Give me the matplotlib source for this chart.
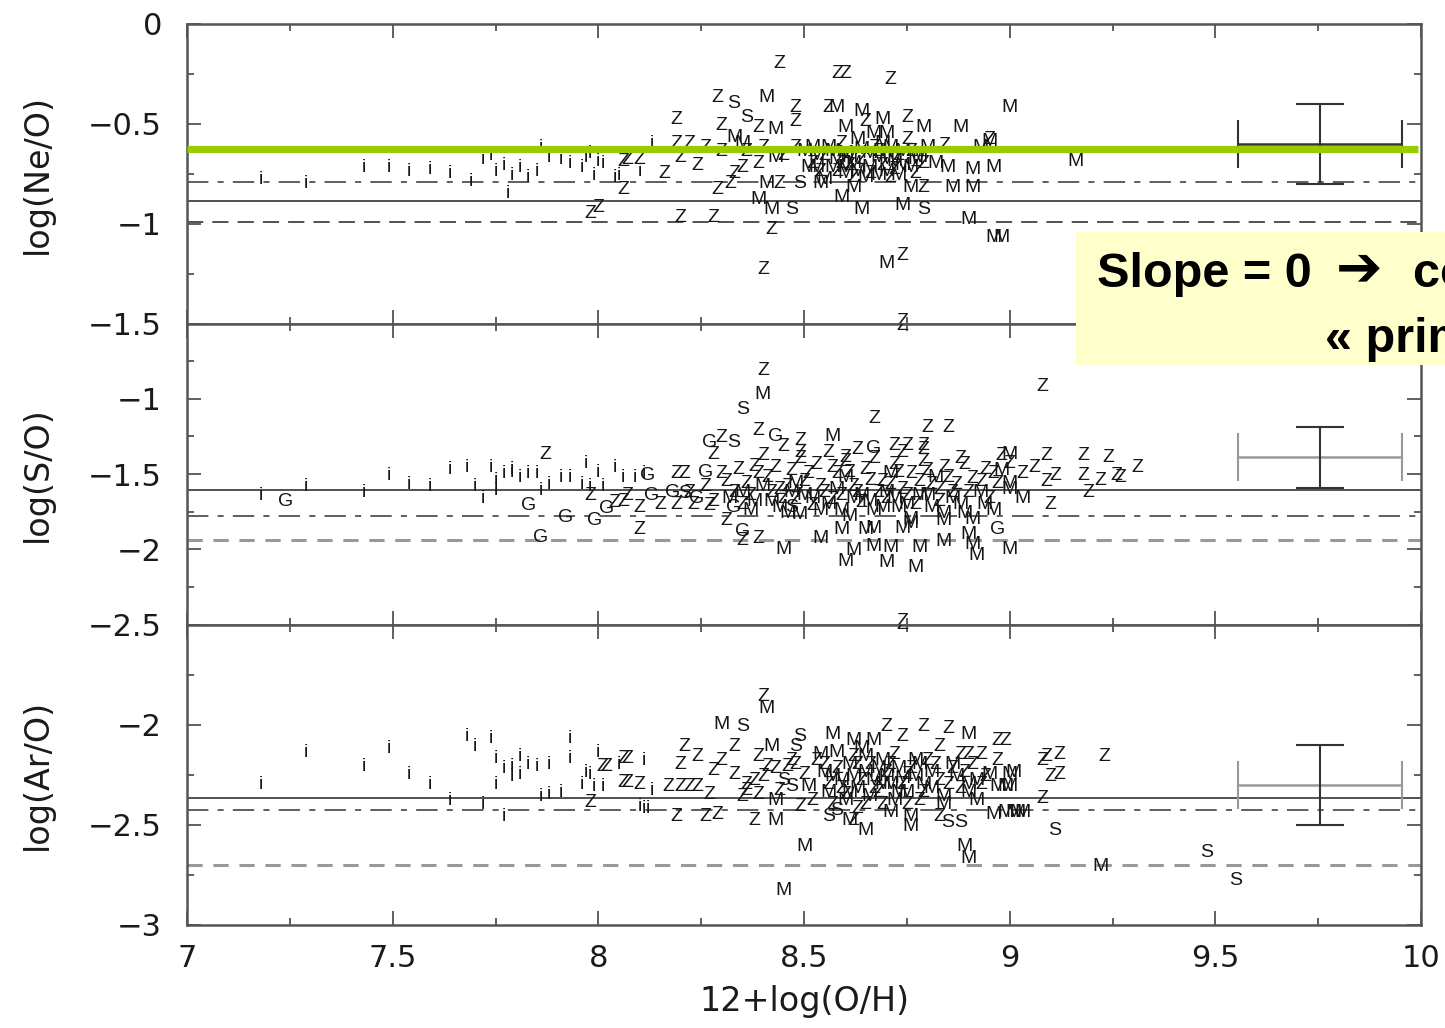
import numpy as np
import matplotlib.pyplot as plt
from matplotlib.ticker import MultipleLocator
from matplotlib.patches import Rectangle

plt.rcParams['font.family'] = ['DejaVu Sans']

# x axis
x_ticks = [7, 7.5, 8, 8.5, 9, 9.5, 10]
x_label = '12+log(O/H)'

# ---- log(Ne/O) panel ----
ne_ticks = [0, -0.5, -1, -1.5]
ne_lines = [-0.888, -0.79, -0.99]          # solid, dash-dot, dashed
ne_green = -0.625
ne_i = [(7.18, -0.78), (7.29, -0.80), (7.43, -0.72), (7.49, -0.72), (7.54, -0.74), (7.59, -0.73),
        (7.64, -0.75), (7.69, -0.79), (7.72, -0.68), (7.74, -0.66), (7.75, -0.74), (7.77, -0.71),
        (7.78, -0.85), (7.79, -0.76), (7.81, -0.72), (7.83, -0.77), (7.85, -0.74), (7.86, -0.62),
        (7.88, -0.67), (7.91, -0.68), (7.93, -0.70), (7.96, -0.72), (7.97, -0.67), (7.98, -0.65),
        (7.99, -0.76), (8.00, -0.69), (8.01, -0.70), (8.04, -0.77), (8.05, -0.76), (8.10, -0.74),
        (8.13, -0.60)]
ne_Z = [(8.44, -0.20), (8.58, -0.25), (8.60, -0.25), (8.71, -0.28), (8.29, -0.37), (8.48, -0.42),
        (8.56, -0.42), (8.65, -0.49), (8.75, -0.47), (8.19, -0.48), (8.30, -0.51), (8.39, -0.52),
        (8.48, -0.49), (8.19, -0.60), (8.22, -0.60), (8.84, -0.61), (8.95, -0.58), (8.07, -0.68),
        (8.10, -0.68), (8.16, -0.75), (8.20, -0.67), (8.24, -0.71), (8.35, -0.72), (8.33, -0.75),
        (8.39, -0.70), (8.32, -0.80), (8.29, -0.83), (8.44, -0.80), (8.79, -0.82), (8.00, -0.92),
        (7.98, -0.95), (8.06, -0.83), (8.06, -0.69), (8.42, -1.03), (8.40, -1.23), (8.74, -1.16),
        (8.20, -0.97), (8.28, -0.97), (8.74, -1.49), (8.48, -0.62), (8.52, -0.70), (8.55, -0.66),
        (8.59, -0.60), (8.61, -0.71), (8.64, -0.68), (8.67, -0.62), (8.69, -0.71), (8.73, -0.66),
        (8.75, -0.58), (8.77, -0.75), (8.62, -0.77), (8.45, -0.66), (8.40, -0.62), (8.36, -0.64),
        (8.30, -0.64), (8.26, -0.62), (8.79, -0.70), (8.58, -0.74), (8.66, -0.75), (8.71, -0.77),
        (8.54, -0.74), (8.59, -0.70), (8.68, -0.64), (8.72, -0.73), (8.76, -0.64)]
ne_M = [(8.41, -0.37), (8.58, -0.42), (8.64, -0.44), (8.69, -0.48), (8.70, -0.55), (8.79, -0.52),
        (8.88, -0.52), (9.00, -0.42), (8.43, -0.53), (8.33, -0.57), (8.60, -0.52), (8.95, -0.59),
        (8.93, -0.62), (8.41, -0.80), (8.54, -0.80), (8.43, -0.67), (8.51, -0.72), (8.53, -0.72),
        (8.60, -0.72), (8.62, -0.82), (8.59, -0.87), (8.64, -0.93), (8.42, -0.93), (8.39, -0.88),
        (8.74, -0.91), (8.76, -0.82), (8.86, -0.82), (8.91, -0.82), (8.91, -0.73), (8.96, -0.72),
        (8.85, -0.72), (8.77, -0.68), (8.90, -0.98), (8.96, -1.07), (8.98, -1.07), (8.70, -1.20),
        (9.16, -0.69), (8.50, -0.64), (8.53, -0.66), (8.56, -0.62), (8.58, -0.68), (8.60, -0.65),
        (8.62, -0.70), (8.64, -0.63), (8.66, -0.72), (8.68, -0.67), (8.70, -0.74), (8.72, -0.69),
        (8.74, -0.64), (8.76, -0.72), (8.78, -0.67), (8.60, -0.75), (8.65, -0.77), (8.69, -0.60),
        (8.57, -0.72), (8.63, -0.58), (8.71, -0.62), (8.80, -0.62), (8.82, -0.70), (8.55, -0.78),
        (8.67, -0.55), (8.73, -0.76), (8.35, -0.60), (8.52, -0.62), (8.57, -0.64), (8.61, -0.67),
        (8.66, -0.65), (8.70, -0.68), (8.74, -0.71), (8.63, -0.74), (8.68, -0.76)]
ne_S = [(8.33, -0.40), (8.36, -0.47), (8.47, -0.93), (8.79, -0.93), (8.49, -0.80)]
ne_err = (9.755, -0.60, 0.20, 0.20)        # x, y, xerr, yerr

# ---- log(S/O) panel ----
so_ticks = [-1, -1.5, -2, -2.5]
so_lines = [-1.605, -1.78, -1.94]
so_i = [(7.18, -1.64), (7.29, -1.58), (7.43, -1.62), (7.49, -1.51), (7.54, -1.57), (7.59, -1.58),
        (7.64, -1.47), (7.68, -1.46), (7.70, -1.58), (7.72, -1.66), (7.74, -1.46), (7.75, -1.54),
        (7.75, -1.61), (7.77, -1.50), (7.79, -1.49), (7.79, -1.47), (7.81, -1.52), (7.83, -1.50),
        (7.85, -1.50), (7.86, -1.61), (7.88, -1.57), (7.91, -1.52), (7.93, -1.52), (7.96, -1.57),
        (7.97, -1.43), (7.98, -1.58), (8.00, -1.49), (8.01, -1.58), (8.04, -1.46), (8.06, -1.52),
        (8.09, -1.52), (8.11, -1.50)]
so_G = [(7.24, -1.68), (7.83, -1.71), (7.92, -1.79), (7.99, -1.81), (7.86, -1.92), (8.02, -1.73),
        (8.12, -1.51), (8.26, -1.49), (8.27, -1.29), (8.43, -1.25), (8.67, -1.33), (8.35, -1.88),
        (8.97, -1.87), (8.13, -1.64), (8.18, -1.62), (8.24, -1.66), (8.33, -1.72)]
so_Z = [(7.87, -1.37), (7.98, -1.64), (8.06, -1.68), (8.40, -0.81), (8.67, -1.13), (9.08, -0.92),
        (8.80, -1.19), (8.85, -1.19), (8.72, -1.31), (8.75, -1.31), (8.79, -1.31), (8.79, -1.34),
        (8.30, -1.26), (8.39, -1.21), (8.45, -1.32), (8.49, -1.28), (8.49, -1.36), (8.60, -1.39),
        (8.28, -1.37), (8.19, -1.50), (8.21, -1.50), (8.10, -1.87), (8.31, -1.81), (8.35, -1.94),
        (8.39, -1.93), (8.74, -0.51), (8.74, -2.48), (9.09, -1.38), (9.18, -1.38), (9.24, -1.39),
        (9.31, -1.46), (9.11, -1.51), (9.18, -1.51), (9.19, -1.62), (9.10, -1.70), (9.26, -1.51),
        (9.27, -1.52), (9.22, -1.54), (8.07, -1.64), (8.10, -1.72), (8.15, -1.70), (8.19, -1.70),
        (8.23, -1.70), (8.27, -1.71), (8.04, -1.69), (8.22, -1.62), (8.26, -1.58), (8.30, -1.50),
        (8.33, -1.62), (8.36, -1.56), (8.38, -1.45), (8.41, -1.52), (8.44, -1.60), (8.47, -1.48),
        (8.50, -1.55), (8.53, -1.44), (8.55, -1.62), (8.58, -1.50), (8.60, -1.42), (8.62, -1.58),
        (8.65, -1.47), (8.67, -1.40), (8.69, -1.55), (8.72, -1.44), (8.74, -1.60), (8.76, -1.50),
        (8.79, -1.42), (8.81, -1.57), (8.84, -1.46), (8.86, -1.62), (8.89, -1.44), (8.91, -1.53),
        (8.94, -1.47), (8.97, -1.56), (9.00, -1.43), (9.03, -1.50), (9.06, -1.46), (9.09, -1.55),
        (8.28, -1.68), (8.35, -1.70), (8.45, -1.66), (8.52, -1.71), (8.57, -1.67), (8.64, -1.69),
        (8.70, -1.66), (8.77, -1.70), (8.83, -1.68), (8.95, -1.66), (8.40, -1.38), (8.49, -1.40),
        (8.56, -1.36), (8.63, -1.34), (8.74, -1.36), (8.88, -1.40), (8.98, -1.38), (8.31, -1.55),
        (8.34, -1.47), (8.37, -1.64), (8.39, -1.50), (8.42, -1.62), (8.43, -1.46), (8.46, -1.58),
        (8.48, -1.67), (8.51, -1.50), (8.54, -1.58), (8.57, -1.46), (8.59, -1.64), (8.61, -1.49),
        (8.63, -1.62), (8.66, -1.54), (8.68, -1.62), (8.71, -1.57), (8.73, -1.49), (8.75, -1.64),
        (8.78, -1.55), (8.80, -1.48), (8.83, -1.60), (8.85, -1.52), (8.87, -1.57), (8.90, -1.62),
        (8.93, -1.55), (8.96, -1.50)]
so_M = [(8.40, -0.97), (8.57, -1.25), (9.00, -1.37), (9.00, -2.00), (8.45, -2.00), (8.54, -1.93),
        (8.59, -1.87), (8.65, -1.87), (8.67, -1.86), (8.60, -2.08), (8.62, -2.01), (8.67, -1.98),
        (8.71, -1.99), (8.70, -2.09), (8.78, -1.99), (8.77, -2.12), (8.84, -1.95), (8.90, -1.90),
        (8.91, -1.97), (8.92, -2.04), (8.74, -1.86), (8.76, -1.83), (8.84, -1.81), (8.49, -1.77),
        (8.32, -1.66), (8.37, -1.74), (8.42, -1.68), (8.46, -1.76), (8.50, -1.64), (8.54, -1.74),
        (8.58, -1.60), (8.61, -1.78), (8.64, -1.64), (8.67, -1.74), (8.70, -1.62), (8.73, -1.72),
        (8.76, -1.80), (8.80, -1.64), (8.84, -1.76), (8.88, -1.70), (8.91, -1.80), (8.93, -1.62),
        (8.96, -1.74), (9.00, -1.60), (9.03, -1.66), (8.40, -1.58), (8.48, -1.56), (8.60, -1.52),
        (8.71, -1.50), (8.82, -1.52), (8.98, -1.48), (9.00, -1.56), (8.35, -1.62), (8.38, -1.68),
        (8.44, -1.72), (8.47, -1.62), (8.52, -1.66), (8.56, -1.70), (8.59, -1.74), (8.62, -1.66),
        (8.66, -1.68), (8.69, -1.72), (8.72, -1.66), (8.75, -1.70), (8.78, -1.64), (8.81, -1.72),
        (8.86, -1.66), (8.89, -1.76), (8.94, -1.70)]
so_S = [(8.35, -1.07), (8.33, -1.29), (8.21, -1.63), (8.47, -1.72)]
so_err = (9.755, -1.39, 0.20, 0.205)

# ---- log(Ar/O) panel ----
ar_ticks = [-2, -2.5, -3]
ar_lines = [-2.365, -2.425, -2.70]
ar_i = [(7.18, -2.30), (7.29, -2.14), (7.43, -2.21), (7.49, -2.12), (7.54, -2.25), (7.59, -2.30),
        (7.64, -2.38), (7.68, -2.06), (7.70, -2.11), (7.72, -2.40), (7.74, -2.07), (7.75, -2.17),
        (7.75, -2.30), (7.77, -2.46), (7.77, -2.22), (7.79, -2.21), (7.79, -2.26), (7.81, -2.16),
        (7.81, -2.25), (7.83, -2.20), (7.85, -2.21), (7.86, -2.36), (7.88, -2.20), (7.88, -2.35),
        (7.91, -2.34), (7.93, -2.07), (7.93, -2.17), (7.96, -2.30), (7.97, -2.24), (7.98, -2.25),
        (7.99, -2.31), (8.01, -2.31), (8.00, -2.14), (8.05, -2.20), (8.11, -2.18), (8.10, -2.41),
        (8.11, -2.42), (8.12, -2.42), (8.13, -2.33)]
ar_Z = [(8.01, -2.21), (7.98, -2.39), (8.06, -2.17), (8.06, -2.29), (8.02, -2.21), (8.07, -2.17),
        (8.07, -2.29), (8.10, -2.30), (8.17, -2.31), (8.20, -2.31), (8.22, -2.31), (8.24, -2.31),
        (8.21, -2.11), (8.20, -2.20), (8.24, -2.16), (8.19, -2.46), (8.26, -2.46), (8.29, -2.45),
        (8.27, -2.35), (8.28, -2.23), (8.30, -2.18), (8.33, -2.11), (8.33, -2.25), (8.36, -2.33),
        (8.35, -2.36), (8.38, -2.48), (8.40, -1.86), (8.39, -2.16), (8.41, -2.21), (8.43, -2.22),
        (8.38, -2.28), (8.39, -2.35), (8.46, -2.21), (8.48, -2.20), (8.49, -2.41), (8.70, -2.01),
        (8.74, -2.06), (8.79, -2.01), (8.85, -2.02), (8.97, -2.08), (8.99, -2.08), (8.83, -2.11),
        (8.88, -2.15), (8.90, -2.15), (8.93, -2.15), (8.83, -2.46), (8.62, -2.48), (9.08, -2.37),
        (9.08, -2.18), (8.74, -1.50), (9.09, -2.16), (9.12, -2.15), (9.10, -2.26), (9.12, -2.25),
        (9.23, -2.16), (8.50, -2.25), (8.53, -2.18), (8.56, -2.30), (8.58, -2.22), (8.60, -2.35),
        (8.62, -2.16), (8.64, -2.28), (8.66, -2.20), (8.68, -2.34), (8.70, -2.24), (8.72, -2.15),
        (8.74, -2.30), (8.76, -2.22), (8.78, -2.38), (8.80, -2.18), (8.83, -2.28), (8.86, -2.22),
        (8.88, -2.32), (8.91, -2.20), (8.94, -2.26), (8.97, -2.18), (8.36, -2.30), (8.40, -2.26),
        (8.44, -2.33), (8.47, -2.18), (8.52, -2.38), (8.57, -2.40), (8.63, -2.42), (8.69, -2.40),
        (8.75, -2.40), (8.55, -2.20), (8.59, -2.32), (8.63, -2.20), (8.67, -2.32), (8.71, -2.20),
        (8.75, -2.25), (8.79, -2.34), (8.82, -2.20), (8.85, -2.30), (8.89, -2.24), (8.93, -2.30),
        (8.65, -2.40)]
ar_M = [(8.30, -2.00), (8.41, -1.92), (8.42, -2.11), (8.43, -2.48), (8.43, -2.38), (8.51, -2.31),
        (8.50, -2.61), (8.45, -2.83), (8.54, -2.15), (8.57, -2.05), (8.62, -2.08), (8.67, -2.08),
        (8.90, -2.05), (9.01, -2.24), (8.97, -2.31), (8.99, -2.31), (8.92, -2.38), (8.95, -2.25),
        (8.90, -2.30), (8.96, -2.45), (8.99, -2.44), (9.02, -2.44), (8.89, -2.61), (8.90, -2.67),
        (8.84, -2.40), (8.76, -2.46), (8.76, -2.51), (8.71, -2.44), (8.61, -2.48), (8.65, -2.53),
        (9.00, -2.25), (9.00, -2.31), (9.01, -2.44), (9.03, -2.44), (9.22, -2.71), (8.55, -2.24),
        (8.59, -2.28), (8.61, -2.20), (8.63, -2.32), (8.65, -2.24), (8.67, -2.28), (8.69, -2.18),
        (8.71, -2.30), (8.73, -2.22), (8.75, -2.34), (8.77, -2.26), (8.79, -2.30), (8.81, -2.24),
        (8.84, -2.36), (8.87, -2.26), (8.90, -2.34), (8.60, -2.38), (8.66, -2.36), (8.72, -2.38),
        (8.58, -2.14), (8.64, -2.12), (8.70, -2.26), (8.56, -2.34), (8.62, -2.26), (8.68, -2.22),
        (8.74, -2.27), (8.78, -2.20), (8.57, -2.26), (8.61, -2.34), (8.65, -2.16), (8.69, -2.30),
        (8.73, -2.34), (8.77, -2.18), (8.81, -2.32), (8.86, -2.20), (8.92, -2.28)]
ar_S = [(8.35, -2.01), (8.49, -2.06), (8.48, -2.11), (8.47, -2.31), (8.56, -2.46), (8.85, -2.49),
        (8.88, -2.49), (9.11, -2.53), (9.48, -2.64), (9.55, -2.78), (8.58, -2.43), (8.45, -2.28)]
ar_err = (9.755, -2.30, 0.20, 0.20)

box_parts = ['Slope = 0', '\u2794', 'constant ratio']
box_line2 = '\u00ab primary \u00bb elements'

ink = '#1a1a1a'
W, H = 1445, 1028
fig = plt.figure(figsize=(W / 100, H / 100), dpi=100)

left, right = 187 / W, 1421 / W
edges = [24, 323.5, 624.5, 925]


def tick_text(v):
    return ('%g' % v).replace('-', '\u2212')


def panel(i, ylim, yticks, ylabel, pts, lines, err, hgray):
    top, bot = edges[i], edges[i + 1]
    ax = fig.add_axes([left, 1 - bot / H, right - left, (bot - top) / H])
    ax.set_xlim(7, 10)
    ax.set_ylim(*ylim)
    ax.set_xticks(x_ticks)
    ax.xaxis.set_minor_locator(MultipleLocator(0.25))
    ax.set_yticks(yticks)
    ax.set_yticklabels([tick_text(v) for v in yticks])
    ax.yaxis.set_minor_locator(MultipleLocator(0.25))
    ax.tick_params(which='both', direction='in', top=True, right=True, colors='#444',
                   labelcolor=ink, labelsize=22, width=1.2)
    ax.tick_params(which='major', length=10)
    ax.tick_params(which='minor', length=5)
    ax.tick_params(axis='y', pad=18)
    ax.tick_params(axis='x', pad=14)
    for s in ax.spines.values():
        s.set_color('#555')
        s.set_linewidth(1.8)
    ax.set_ylabel(ylabel, fontsize=24, color=ink)
    ax.yaxis.set_label_coords(-0.108, 0.5)

    for letter, xy in pts.items():
        for x, y in xy:
            ax.text(x, y, letter, ha='center', va='center', fontsize=14, color='#161616',
                    family=['Liberation Sans', 'DejaVu Sans'], clip_on=True, zorder=3)

    solid, dashdot, dashed = lines
    ax.axhline(solid, color='#333', lw=1.2, zorder=2)
    ax.axhline(dashdot, color='#333', lw=1.1, ls=(0, (14, 6, 4, 6)), zorder=2)
    if hgray:
        ax.axhline(dashed, color='#999', lw=2.2, ls=(0, (5, 3.5)), zorder=2)
    else:
        ax.axhline(dashed, color='#444', lw=1.3, ls=(0, (9, 5)), zorder=2)

    ex, ey, exerr, eyerr = err
    ax.errorbar(ex, ey, xerr=exerr, fmt='none', ecolor='#999' if hgray else '#333',
                elinewidth=1.8, capsize=17, capthick=1.5, zorder=2)
    ax.errorbar(ex, ey, yerr=eyerr, fmt='none', ecolor='#333',
                elinewidth=1.5, capsize=17, capthick=1.5, zorder=2)
    return ax


ax1 = panel(0, (-1.5, 0), ne_ticks, 'log(Ne/O)',
            {'i': ne_i, 'Z': ne_Z, 'M': ne_M, 'S': ne_S}, ne_lines, ne_err, False)
ax2 = panel(1, (-2.5, -0.5), so_ticks, 'log(S/O)',
            {'i': so_i, 'G': so_G, 'Z': so_Z, 'M': so_M, 'S': so_S}, so_lines, so_err, True)
ax3 = panel(2, (-3, -1.5), ar_ticks, 'log(Ar/O)',
            {'i': ar_i, 'Z': ar_Z, 'M': ar_M, 'S': ar_S}, ar_lines, ar_err, True)

for ax in (ax1, ax2):
    ax.tick_params(axis='x', labelbottom=False)
ax3.set_xticklabels([tick_text(v) for v in x_ticks])
ax3.set_xlabel(x_label, fontsize=24, color=ink, labelpad=8)

# green reference line in the Ne/O panel
ax1.plot([7, 9.993], [ne_green, ne_green], color='#99cc00', lw=5.2, zorder=5,
         solid_capstyle='butt', clip_on=False)

# yellow annotation box
fig.patches.append(Rectangle((1076 / W, 1 - 365 / H), 1 - 1076 / W, (365 - 232) / H,
                             transform=fig.transFigure, facecolor='#ffffcc',
                             edgecolor='none', zorder=10))
box_font = dict(fontsize=35, fontweight='bold', color='black', zorder=11, va='baseline',
                family=['Liberation Sans', 'DejaVu Sans'])
fig.text(1097 / W, 1 - 287 / H, box_parts[0], **box_font)
fig.text(1336 / W, 1 - 285 / H, box_parts[1], **dict(box_font, fontsize=40))
fig.text(1413 / W, 1 - 287 / H, box_parts[2], **box_font)
fig.text(1325 / W, 1 - 352 / H, box_line2, **box_font)

fig.savefig('out.png', dpi=100)
